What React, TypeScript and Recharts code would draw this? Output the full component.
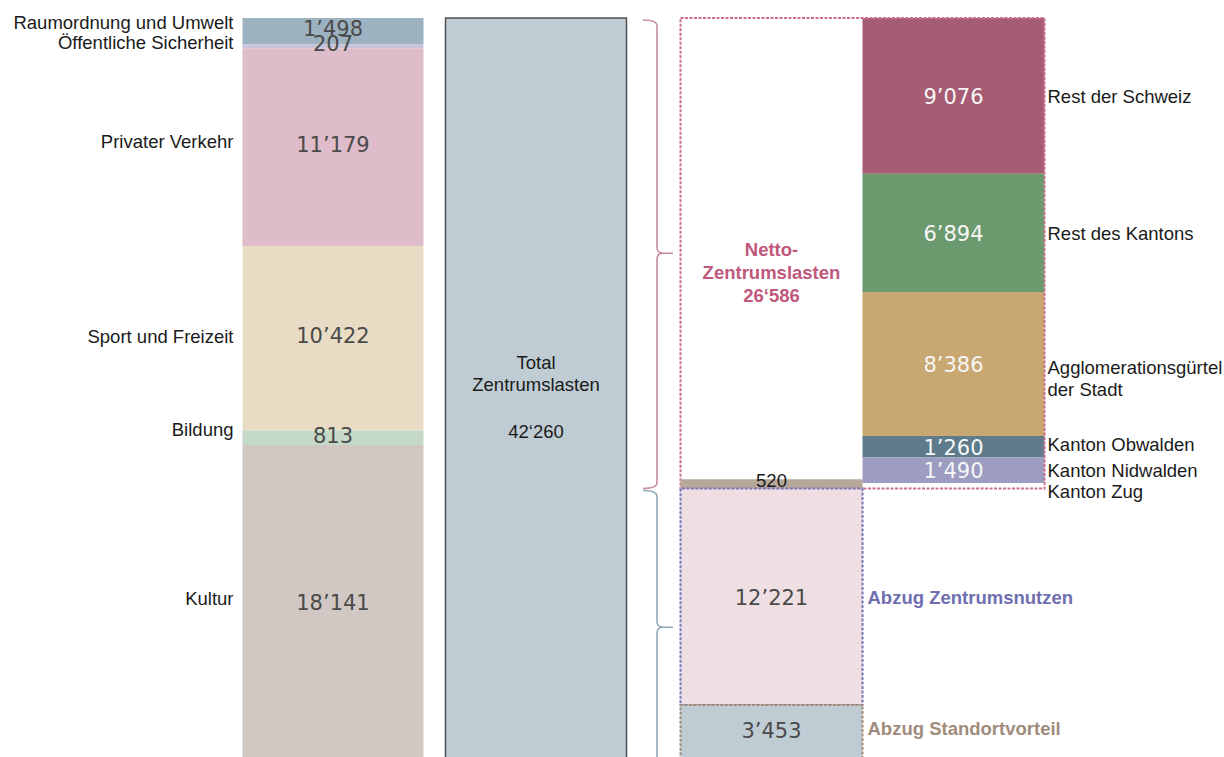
import { BarChart, Bar, XAxis, YAxis, LabelList, ReferenceArea } from "recharts"

// Zentrumslasten nach Aufgabenbereich, von oben nach unten
const bereiche = [
  "Raumordnung und Umwelt",
  "Öffentliche Sicherheit",
  "Privater Verkehr",
  "Sport und Freizeit",
  "Bildung",
  "Kultur",
]
const bereichWerte = [1498, 207, 11179, 10422, 813, 18141]

const totalTitel = ["Total", "Zentrumslasten"]
const nettoTitel = ["Netto-", "Zentrumslasten"]

const abzuege = ["Abzug Zentrumsnutzen", "Abzug Standortvorteil"]
const abzugWerte = [12221, 3453]
const zugWert = 520

// Verteilung der Netto-Zentrumslasten nach Herkunft der Nutzer
const regionen = [
  "Rest der Schweiz",
  "Rest des Kantons",
  "Agglomerationsgürtel\nder Stadt",
  "Kanton Obwalden",
  "Kanton Nidwalden",
  "Kanton Zug",
]
const regionWerte = [9076, 6894, 8386, 1260, 1490, 520]

const sum = (a: number[]) => a.reduce((s, v) => s + v, 0)
const total = sum(bereichWerte)
const netto = total - sum(abzugWerte)
const regionTotal = sum(regionWerte)

const fmt = (v: number, sep = "’") => String(v).replace(/\B(?=(\d{3})+(?!\d))/g, sep)

// styles
const labelFont = "'Liberation Sans', Arial, sans-serif"
const valueFont = "'DejaVu Sans', Verdana, sans-serif"
const bereichFarben = ["#9db2c0", "#c9c2da", "#dfbcc9", "#e9dcc4", "#c5d9c9", "#d1c8c3"]
const bereichNameDy = [-9, -4, -6, -2, -8, -7]
const regionFarben = ["#a65c72", "#6b9a6f", "#c9a770", "#5d7b8b", "#9d9dc1", "#ffffff"]
const regionNameDy = [1, 1, 4, -2, 0, 4]

const linksDaten = [
  Object.fromEntries([["name", "Bereiche"], ...bereichWerte.map((v, i) => [`b${i}`, v])]),
  { name: "Total", total },
]
const mitteDaten = [
  { name: "Netto", rest: netto - zugWert, zug: zugWert, nutzen: abzugWerte[0], standort: abzugWerte[1] },
  { name: "Regionen" },
]
const rechtsDaten = [Object.fromEntries([["name", "Regionen"], ...regionWerte.map((v, i) => [`r${i}`, v])])]

type Line = { text: string; dy: number }
type Opts = {
  side: "left" | "center" | "right" | "top"
  dx?: number
  size?: number
  color?: string
  weight?: number | string
  family?: string
}

const boxLabel = (lines: (v: number) => Line[], o: Opts) => (props: any) => {
  const vb = props.viewBox ?? props
  if (props.value == null || vb == null || vb.x == null) return null
  const { x, y, width, height } = vb
  const cy = o.side === "top" ? Math.min(y, y + height) : y + height / 2
  const dx = o.dx ?? 0
  const px = o.side === "left" ? x + dx : o.side === "right" ? x + width + dx : x + width / 2 + dx
  const anchor = o.side === "left" ? "end" : o.side === "right" ? "start" : "middle"
  return (
    <g>
      {lines(Number(props.value)).map((l, i) => (
        <text
          key={i}
          x={px}
          y={cy + l.dy}
          textAnchor={anchor}
          dominantBaseline="central"
          fontSize={o.size ?? 18.5}
          fontWeight={o.weight ?? 400}
          fontFamily={o.family ?? labelFont}
          fill={o.color ?? "#1a1a1a"}
        >
          {l.text}
        </text>
      ))}
    </g>
  )
}

const multi = (s: string, dy: number, lh = 22): Line[] => s.split("\n").map((t, i) => ({ text: t, dy: dy + i * lh }))

const braceShape = (color: string) => (props: any) => {
  const x0 = props.x + props.width
  const y0 = Math.min(props.y, props.y + props.height)
  const y1 = y0 + Math.abs(props.height)
  const xL = x0 + 5.5
  const xS = x0 + 19.5
  const xT = x0 + 35.5
  const r = 6
  const ym = (y0 + y1) / 2
  const d =
    `M${xL},${y0 + 2} Q${xS},${y0 + 2} ${xS},${y0 + 2 + r} L${xS},${ym - r} Q${xS},${ym} ${xS + 6},${ym} L${xT},${ym} ` +
    `M${xS + 6},${ym} Q${xS},${ym} ${xS},${ym + r} L${xS},${y1 - r} Q${xS},${y1} ${xL},${y1}`
  return <path d={d} fill="none" stroke={color} strokeWidth={1.6} />
}

export default function App() {
  return (
    <div
      style={{
        position: "fixed",
        left: 0,
        top: 0,
        width: 1224,
        height: 757,
        overflow: "hidden",
        background: "#fff",
        fontFamily: labelFont,
      }}
    >
      {/* Bereiche + Total */}
      <div style={{ position: "absolute", left: 0, top: 0 }}>
        <BarChart
          width={687.5}
          height={766}
          data={linksDaten}
          margin={{ top: 18, right: 50, bottom: 0, left: 231.5 }}
          barSize={181}
        >
          <XAxis dataKey="name" hide />
          <YAxis hide reversed domain={[0, total]} />
          {bereiche.map((b, i) => (
            <Bar key={b} dataKey={`b${i}`} stackId="a" fill={bereichFarben[i]} isAnimationActive={false}>
              <LabelList
                dataKey={`b${i}`}
                content={boxLabel((v) => [{ text: fmt(v), dy: -2 }], {
                  side: "center",
                  size: 21,
                  color: "#4a4a4a",
                  family: valueFont,
                })}
              />
              <LabelList
                dataKey={`b${i}`}
                content={boxLabel(() => [{ text: b, dy: bereichNameDy[i] }], { side: "left", dx: -9 })}
              />
            </Bar>
          ))}
          <Bar dataKey="total" stackId="a" fill="#bfccd3" stroke="#4f4f4f" strokeWidth={1.5} isAnimationActive={false}>
            <LabelList
              dataKey="total"
              content={boxLabel(
                (v) => [
                  { text: totalTitel[0], dy: -30 },
                  { text: totalTitel[1], dy: -8 },
                  { text: fmt(v, "‘"), dy: 39 },
                ],
                { side: "center" }
              )}
            />
          </Bar>
          <ReferenceArea y1={0} y2={netto} shape={braceShape("#c98aa3")} />
          <ReferenceArea y1={netto} y2={total} shape={braceShape("#8fa8b8")} />
        </BarChart>
      </div>

      {/* Regionen */}
      <div style={{ position: "absolute", left: 0, top: 0 }}>
        <BarChart
          width={1224}
          height={520}
          data={rechtsDaten}
          margin={{ top: 18, right: 179.5, bottom: 28, left: 862.5 }}
          barCategoryGap="0%"
          barGap={0}
        >
          <XAxis dataKey="name" hide />
          <YAxis hide reversed domain={[0, regionTotal]} />
          {regionen.map((r, i) => (
            <Bar key={r} dataKey={`r${i}`} stackId="r" fill={regionFarben[i]} isAnimationActive={false}>
              {i < regionen.length - 1 && (
                <LabelList
                  dataKey={`r${i}`}
                  content={boxLabel((v) => [{ text: fmt(v), dy: 1 }], {
                    side: "center",
                    size: 21,
                    color: "#f6f6f6",
                    family: valueFont,
                  })}
                />
              )}
              <LabelList
                dataKey={`r${i}`}
                content={boxLabel(() => multi(r, regionNameDy[i]), { side: "right", dx: 3 })}
              />
            </Bar>
          ))}
        </BarChart>
      </div>

      {/* Netto + Abzüge */}
      <div style={{ position: "absolute", left: 0, top: 0 }}>
        <BarChart
          width={1224}
          height={766}
          data={mitteDaten}
          margin={{ top: 18, right: 179.5, bottom: 0, left: 680.5 }}
          barCategoryGap="0%"
          barGap={0}
        >
          <XAxis dataKey="name" hide />
          <YAxis hide reversed domain={[0, total]} />
          <Bar dataKey="rest" stackId="c" fill="none" isAnimationActive={false}>
            <LabelList
              dataKey="rest"
              content={boxLabel(
                () => [
                  { text: nettoTitel[0], dy: 1 },
                  { text: nettoTitel[1], dy: 24 },
                  { text: fmt(netto, "‘"), dy: 47 },
                ],
                { side: "center", weight: 700, color: "#c0587c" }
              )}
            />
          </Bar>
          <Bar dataKey="zug" stackId="c" fill="#b8a89a" isAnimationActive={false}>
            <LabelList dataKey="zug" content={boxLabel((v) => [{ text: String(v), dy: 1 }], { side: "top" })} />
          </Bar>
          <Bar
            dataKey="nutzen"
            stackId="c"
            fill="#efdfe3"
            stroke="#7777bb"
            strokeDasharray="3 1.5"
            strokeWidth={2}
            isAnimationActive={false}
          >
            <LabelList
              dataKey="nutzen"
              content={boxLabel((v) => [{ text: fmt(v), dy: 1 }], {
                side: "center",
                size: 21,
                color: "#4a4a4a",
                family: valueFont,
              })}
            />
            <LabelList
              dataKey="nutzen"
              content={boxLabel(() => [{ text: abzuege[0], dy: 1 }], {
                side: "right",
                dx: 5,
                weight: 700,
                color: "#6f6fb0",
              })}
            />
          </Bar>
          <Bar
            dataKey="standort"
            stackId="c"
            fill="#bfccd3"
            stroke="#a08a78"
            strokeDasharray="3 1.5"
            strokeWidth={2}
            isAnimationActive={false}
          >
            <LabelList
              dataKey="standort"
              content={boxLabel((v) => [{ text: fmt(v), dy: -4 }], {
                side: "center",
                size: 21,
                color: "#4a4a4a",
                family: valueFont,
              })}
            />
            <LabelList
              dataKey="standort"
              content={boxLabel(() => [{ text: abzuege[1], dy: -7 }], {
                side: "right",
                dx: 5,
                weight: 700,
                color: "#a08c7c",
              })}
            />
          </Bar>
          <ReferenceArea
            y1={0}
            y2={netto}
            fill="none"
            fillOpacity={0}
            stroke="#c96e8f"
            strokeDasharray="3 1.5"
            strokeWidth={2}
          />
        </BarChart>
      </div>
    </div>
  )
}
